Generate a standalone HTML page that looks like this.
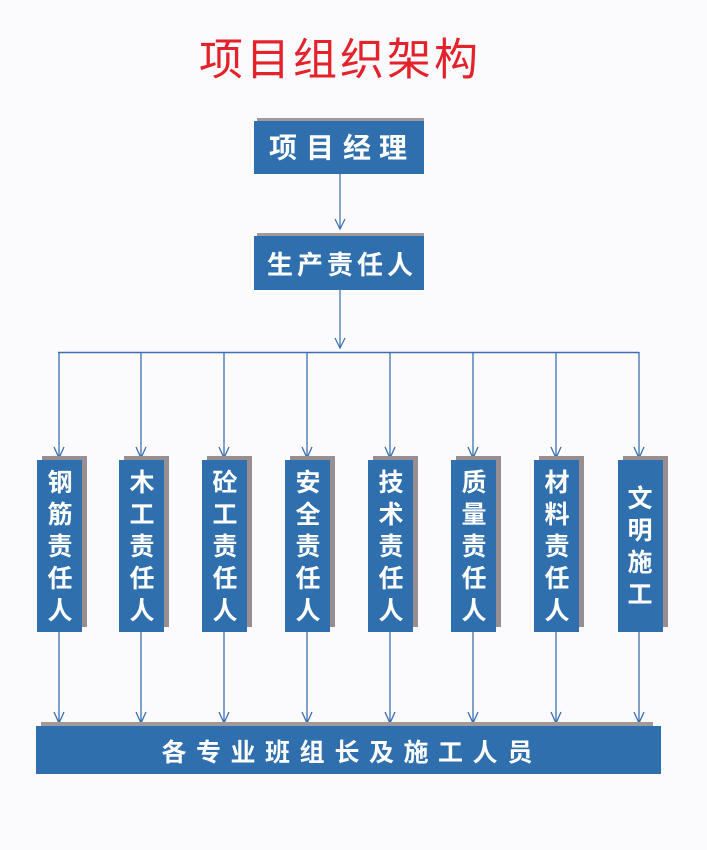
<!DOCTYPE html>
<html><head><meta charset="utf-8"><style>
html,body{margin:0;padding:0;background:#fbfbfd;}
svg{display:block;}
text{font-family:"Liberation Sans","Noto Sans CJK SC",sans-serif;}
</style></head><body>
<svg width="707" height="850" viewBox="0 0 707 850" xmlns="http://www.w3.org/2000/svg">
<rect width="707" height="850" fill="#fbfbfd"/>
<g fill="#e3222c" font-size="44" text-anchor="middle" dominant-baseline="central">
<text x="221" y="60">项</text><text x="268" y="60">目</text><text x="315" y="60">组</text><text x="362" y="60">织</text><text x="409" y="60">架</text><text x="456" y="60">构</text>
</g>
<!-- top boxes -->
<rect x="257" y="118" width="167" height="6" fill="#a09a9c"/>
<rect x="254" y="121" width="170" height="53" fill="#2f6fae"/>
<rect x="257" y="233" width="167" height="6" fill="#a09a9c"/>
<rect x="254" y="236" width="170" height="54" fill="#2f6fae"/>
<g fill="#ffffff" font-size="28" font-weight="bold" text-anchor="middle" dominant-baseline="central">
<text x="283" y="148">项</text><text x="320" y="148">目</text><text x="357" y="148">经</text><text x="393" y="148">理</text>
</g>
<g fill="#ffffff" font-size="26" font-weight="bold" text-anchor="middle" dominant-baseline="central">
<text x="280" y="265">生</text><text x="310" y="265">产</text><text x="340" y="265">责</text><text x="370" y="265">任</text><text x="400" y="265">人</text>
</g>
<!-- connectors -->
<g stroke="#3a6fb0" stroke-width="1.2" fill="none">
<line x1="340" y1="174" x2="340" y2="229"/>
<polyline points="335,219 340,229 345,219"/>
<line x1="340" y1="290" x2="340" y2="348"/>
<polyline points="335,338 340,348 345,338"/>
<line x1="58" y1="352.5" x2="639" y2="352.5" stroke-width="1.5"/>
</g>
<g stroke="#3a6fb0" stroke-width="1.3" fill="none">
<line x1="59" y1="352" x2="59" y2="458"/><polyline points="54,447 59,458 64,447"/>
<line x1="141" y1="352" x2="141" y2="458"/><polyline points="136,447 141,458 146,447"/>
<line x1="224" y1="352" x2="224" y2="458"/><polyline points="219,447 224,458 229,447"/>
<line x1="307" y1="352" x2="307" y2="458"/><polyline points="302,447 307,458 312,447"/>
<line x1="390" y1="352" x2="390" y2="458"/><polyline points="385,447 390,458 395,447"/>
<line x1="473" y1="352" x2="473" y2="458"/><polyline points="468,447 473,458 478,447"/>
<line x1="556" y1="352" x2="556" y2="458"/><polyline points="551,447 556,458 561,447"/>
<line x1="639" y1="352" x2="639" y2="458"/><polyline points="634,447 639,458 644,447"/>

<line x1="59" y1="632" x2="59" y2="723"/><polyline points="54,712 59,723 64,712"/>
<line x1="141" y1="632" x2="141" y2="723"/><polyline points="136,712 141,723 146,712"/>
<line x1="224" y1="632" x2="224" y2="723"/><polyline points="219,712 224,723 229,712"/>
<line x1="307" y1="632" x2="307" y2="723"/><polyline points="302,712 307,723 312,712"/>
<line x1="390" y1="632" x2="390" y2="723"/><polyline points="385,712 390,723 395,712"/>
<line x1="473" y1="632" x2="473" y2="723"/><polyline points="468,712 473,723 478,712"/>
<line x1="556" y1="632" x2="556" y2="723"/><polyline points="551,712 556,723 561,712"/>
<line x1="639" y1="632" x2="639" y2="723"/><polyline points="634,712 639,723 644,712"/>
</g>
<!-- vertical boxes -->
<g fill="#978e92">
<rect x="42" y="456" width="45" height="171"/>
<rect x="124" y="456" width="45" height="171"/>
<rect x="207" y="456" width="45" height="171"/>
<rect x="290" y="456" width="45" height="171"/>
<rect x="373" y="456" width="45" height="171"/>
<rect x="456" y="456" width="45" height="171"/>
<rect x="539" y="456" width="45" height="171"/>
<rect x="623" y="456" width="45" height="171"/>
</g>
<g fill="#2f6fae">
<rect x="37" y="460" width="45" height="172"/>
<rect x="119" y="460" width="45" height="172"/>
<rect x="202" y="460" width="45" height="172"/>
<rect x="285" y="460" width="45" height="172"/>
<rect x="368" y="460" width="45" height="172"/>
<rect x="451" y="460" width="45" height="172"/>
<rect x="534" y="460" width="45" height="172"/>
<rect x="618" y="460" width="45" height="172"/>
</g>
<g fill="#ffffff" font-size="25" font-weight="bold" text-anchor="middle" dominant-baseline="central">
<text x="60" y="483">钢</text><text x="60" y="515">筋</text><text x="60" y="547">责</text><text x="60" y="579">任</text><text x="60" y="611">人</text>
<text x="142" y="483">木</text><text x="142" y="515">工</text><text x="142" y="547">责</text><text x="142" y="579">任</text><text x="142" y="611">人</text>
<text x="225" y="483">砼</text><text x="225" y="515">工</text><text x="225" y="547">责</text><text x="225" y="579">任</text><text x="225" y="611">人</text>
<text x="308" y="483">安</text><text x="308" y="515">全</text><text x="308" y="547">责</text><text x="308" y="579">任</text><text x="308" y="611">人</text>
<text x="391" y="483">技</text><text x="391" y="515">术</text><text x="391" y="547">责</text><text x="391" y="579">任</text><text x="391" y="611">人</text>
<text x="474" y="483">质</text><text x="474" y="515">量</text><text x="474" y="547">责</text><text x="474" y="579">任</text><text x="474" y="611">人</text>
<text x="557" y="483">材</text><text x="557" y="515">料</text><text x="557" y="547">责</text><text x="557" y="579">任</text><text x="557" y="611">人</text>
<text x="640" y="499">文</text><text x="640" y="531">明</text><text x="640" y="563">施</text><text x="640" y="595">工</text>
</g>
<!-- bottom box -->
<rect x="41" y="722" width="612" height="8" fill="#a09a9c"/>
<rect x="36" y="726" width="625" height="48" fill="#2f6fae"/>
<g fill="#ffffff" font-size="25" font-weight="bold" text-anchor="middle" dominant-baseline="central">
<text x="174" y="753">各</text><text x="208.5" y="753">专</text><text x="243" y="753">业</text><text x="277.5" y="753">班</text><text x="312" y="753">组</text><text x="347" y="753">长</text><text x="381.5" y="753">及</text><text x="416" y="753">施</text><text x="450.5" y="753">工</text><text x="485" y="753">人</text><text x="520" y="753">员</text>
</g>
</svg>
</body></html>
